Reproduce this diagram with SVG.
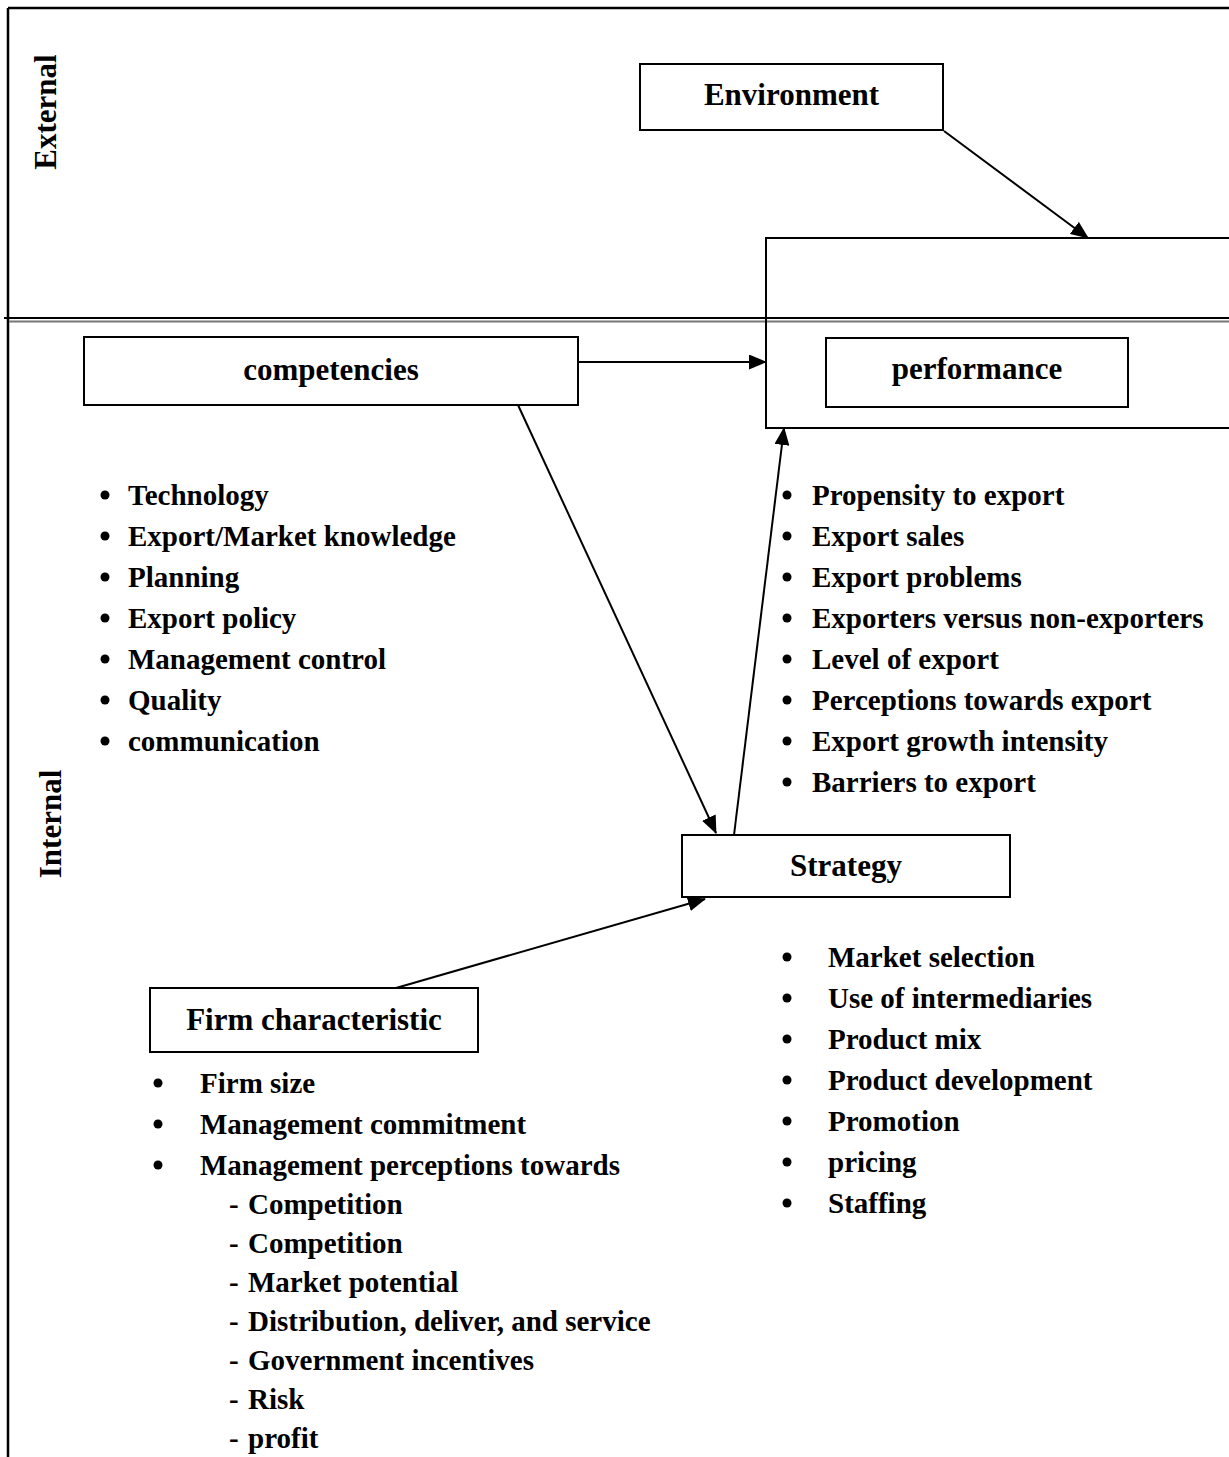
<svg xmlns="http://www.w3.org/2000/svg" width="1229" height="1457" viewBox="0 0 1229 1457">
  <style>
    text { font-family: "Liberation Serif", "Times New Roman", serif; font-weight: bold; fill: #000; }
    .title { font-size: 31px; text-anchor: middle; }
    .item { font-size: 29px; }
    .side { font-size: 31px; text-anchor: middle; }
    .box { fill: #fff; stroke: #000; stroke-width: 2; }
    .frame { stroke: #000; stroke-width: 2.5; fill: none; }
    .link { stroke: #000; stroke-width: 2; fill: none; marker-end: url(#arrow); }
    .dot { fill: #000; }
  </style>
  <defs>
    <marker id="arrow" markerUnits="userSpaceOnUse" markerWidth="18" markerHeight="15" refX="17" refY="7.5" orient="auto">
      <path d="M0,0 L18,7.5 L0,15 Z" fill="#000"/>
    </marker>
  </defs>

  <rect width="1229" height="1457" fill="#fff"/>

  <!-- page frame and the external / internal divider -->
  <g id="frame">
    <line class="frame" x1="8" y1="8" x2="1229" y2="8"/>
    <line class="frame" x1="8" y1="8" x2="8" y2="1457"/>
    <line x1="4" y1="318" x2="1229" y2="318" stroke="#000" stroke-width="2"/>
    <line x1="9" y1="321.5" x2="1229" y2="321.5" stroke="#777" stroke-width="2"/>
  </g>

  <g id="zone-labels">
    <text class="side" transform="translate(56,112) rotate(-90)">External</text>
    <text class="side" transform="translate(61,824) rotate(-90)">Internal</text>
  </g>

  <!-- performance container (open to the right edge) -->
  <g id="performance-area">
    <path d="M1229,238 L766,238 L766,428 L1229,428" fill="none" stroke="#000" stroke-width="2"/>
  </g>

  <g id="environment">
    <rect class="box" x="640" y="64" width="303" height="66"/>
    <text class="title" x="791.5" y="105">Environment</text>
  </g>

  <g id="competencies">
    <rect class="box" x="84" y="337" width="494" height="68"/>
    <text class="title" x="331" y="380">competencies</text>
    <g class="items">
      <circle class="dot" cx="105" cy="495" r="4.5"/><text class="item" x="128" y="505">Technology</text>
      <circle class="dot" cx="105" cy="536" r="4.5"/><text class="item" x="128" y="546">Export/Market knowledge</text>
      <circle class="dot" cx="105" cy="577" r="4.5"/><text class="item" x="128" y="587">Planning</text>
      <circle class="dot" cx="105" cy="618" r="4.5"/><text class="item" x="128" y="628">Export policy</text>
      <circle class="dot" cx="105" cy="659" r="4.5"/><text class="item" x="128" y="669">Management control</text>
      <circle class="dot" cx="105" cy="700" r="4.5"/><text class="item" x="128" y="710">Quality</text>
      <circle class="dot" cx="105" cy="741" r="4.5"/><text class="item" x="128" y="751">communication</text>
    </g>
  </g>

  <g id="performance">
    <rect class="box" x="826" y="338" width="302" height="69"/>
    <text class="title" x="977" y="379">performance</text>
    <g class="items">
      <circle class="dot" cx="787" cy="495" r="4.5"/><text class="item" x="812" y="505">Propensity to export</text>
      <circle class="dot" cx="787" cy="536" r="4.5"/><text class="item" x="812" y="546">Export sales</text>
      <circle class="dot" cx="787" cy="577" r="4.5"/><text class="item" x="812" y="587">Export problems</text>
      <circle class="dot" cx="787" cy="618" r="4.5"/><text class="item" x="812" y="628">Exporters versus non-exporters</text>
      <circle class="dot" cx="787" cy="659" r="4.5"/><text class="item" x="812" y="669">Level of export</text>
      <circle class="dot" cx="787" cy="700" r="4.5"/><text class="item" x="812" y="710">Perceptions towards export</text>
      <circle class="dot" cx="787" cy="741" r="4.5"/><text class="item" x="812" y="751">Export growth intensity</text>
      <circle class="dot" cx="787" cy="782" r="4.5"/><text class="item" x="812" y="792">Barriers to export</text>
    </g>
  </g>

  <g id="strategy">
    <rect class="box" x="682" y="835" width="328" height="62"/>
    <text class="title" x="846" y="876">Strategy</text>
    <g class="items">
      <circle class="dot" cx="787" cy="957" r="4.5"/><text class="item" x="828" y="967">Market selection</text>
      <circle class="dot" cx="787" cy="998" r="4.5"/><text class="item" x="828" y="1008">Use of intermediaries</text>
      <circle class="dot" cx="787" cy="1039" r="4.5"/><text class="item" x="828" y="1049">Product mix</text>
      <circle class="dot" cx="787" cy="1080" r="4.5"/><text class="item" x="828" y="1090">Product development</text>
      <circle class="dot" cx="787" cy="1121" r="4.5"/><text class="item" x="828" y="1131">Promotion</text>
      <circle class="dot" cx="787" cy="1162" r="4.5"/><text class="item" x="828" y="1172">pricing</text>
      <circle class="dot" cx="787" cy="1203" r="4.5"/><text class="item" x="828" y="1213">Staffing</text>
    </g>
  </g>

  <g id="firm-characteristic">
    <rect class="box" x="150" y="988" width="328" height="64"/>
    <text class="title" x="314" y="1030">Firm characteristic</text>
    <g class="items">
      <circle class="dot" cx="158" cy="1083" r="4.5"/><text class="item" x="200" y="1093">Firm size</text>
      <circle class="dot" cx="158" cy="1124" r="4.5"/><text class="item" x="200" y="1134">Management commitment</text>
      <circle class="dot" cx="158" cy="1165" r="4.5"/><text class="item" x="200" y="1175">Management perceptions towards</text>
      <text class="item" x="229" y="1214">-</text><text class="item" x="248" y="1214">Competition</text>
      <text class="item" x="229" y="1253">-</text><text class="item" x="248" y="1253">Competition</text>
      <text class="item" x="229" y="1292">-</text><text class="item" x="248" y="1292">Market potential</text>
      <text class="item" x="229" y="1331">-</text><text class="item" x="248" y="1331">Distribution, deliver, and service</text>
      <text class="item" x="229" y="1370">-</text><text class="item" x="248" y="1370">Government incentives</text>
      <text class="item" x="229" y="1409">-</text><text class="item" x="248" y="1409">Risk</text>
      <text class="item" x="229" y="1448">-</text><text class="item" x="248" y="1448">profit</text>
    </g>
  </g>

  <!-- connectors -->
  <g id="connectors">
    <line class="link" x1="944" y1="131" x2="1088" y2="238"/>
    <line class="link" x1="578" y1="362" x2="766" y2="362"/>
    <line class="link" x1="518" y1="405" x2="716" y2="833"/>
    <line class="link" x1="734" y1="835" x2="784" y2="428"/>
    <line class="link" x1="396" y1="988" x2="705" y2="899"/>
  </g>
</svg>
